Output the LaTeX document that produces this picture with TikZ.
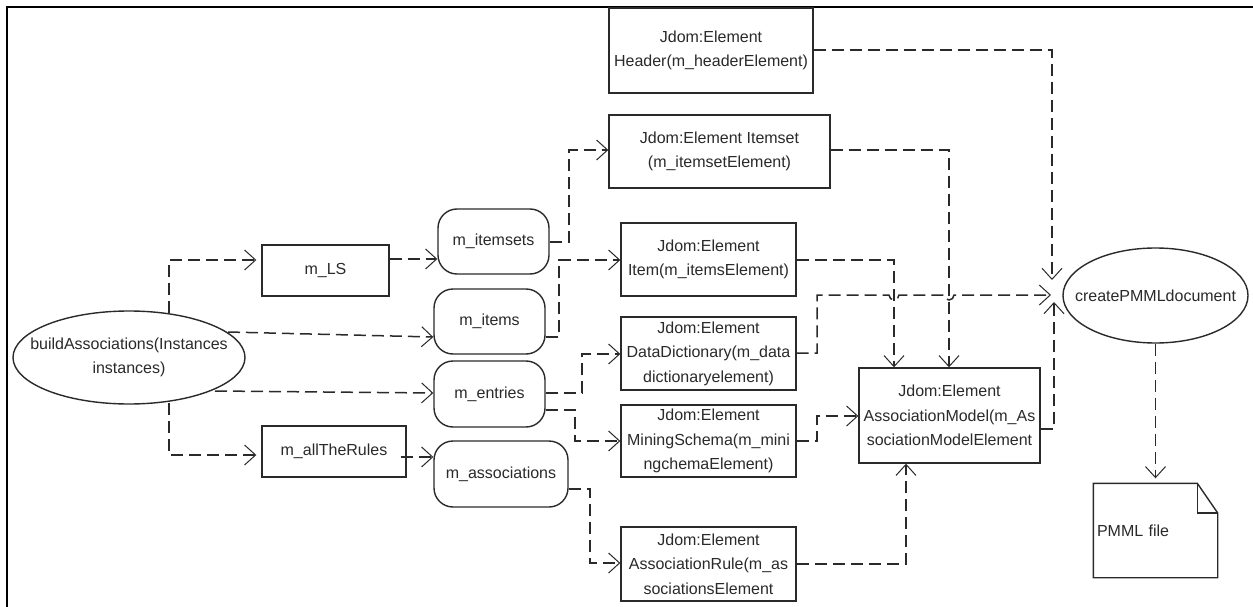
\documentclass[tikz,border=0pt]{standalone}
\usepackage{fontspec}
\setmainfont{Liberation Sans}
\usetikzlibrary{arrows.meta}
\definecolor{ink}{HTML}{2A2A2A}
\tikzset{
  base/.style={draw=ink,line width=1.4pt,inner sep=0pt,align=center,text=ink,font=\fontsize{16}{24.5}\selectfont},
  box/.style={base,rectangle},
  rbox/.style={base,rectangle,rounded corners=19pt},
  oval/.style={base,rectangle,draw=none},
  ovaline/.style={draw=ink,line width=1.4pt},
  conn/.style={draw=ink,line width=1.5pt,dash pattern=on 12pt off 6pt,
    -{Straight Barb[length=11pt,width=20pt,line width=1pt]}},
  gap/.style={shorten >=5pt},
}
\newcommand{\bx}[6]{\node[#1,minimum width=#5pt-#3pt,minimum height=#6pt-#4pt] (#2) at ({(#3+#5)/2},{(#4+#6)/2})}
\begin{document}
\begin{tikzpicture}[x=1pt,y=-1pt]
\useasboundingbox (0,0) rectangle (1253,607);
\fill[white] (0,0) rectangle (1253,607);
\draw[black,line width=2.4pt] (7,607) -- (7,7) -- (1253,7);

\bx{oval}{build}{13}{311}{245}{404} {buildAssociations(Instances\\instances)};
\draw[ovaline] (build.center) ellipse [x radius=116pt,y radius=46.5pt];
\bx{box}{ls}{262}{245}{389}{296} {m\_LS};
\bx{box}{rules}{262}{426}{406}{477} {m\_allTheRules};
\bx{rbox}{itemsets}{438}{209}{549}{274} {m\_itemsets};
\bx{rbox}{items}{434}{289}{545}{354} {m\_items};
\bx{rbox}{entries}{434}{361}{545}{427} {m\_entries};
\bx{rbox}{assocs}{434}{441}{568}{507} {m\_associations};
\bx{box}{header}{609}{8}{813}{93} {Jdom:Element\\Header(m\_headerElement)};
\bx{box}{itemset}{609}{115}{830}{188} {Jdom:Element Itemset\\(m\_itemsetElement)};
\bx{box}{item}{621}{223}{796}{296} {Jdom:Element\\Item(m\_itemsElement)};
\bx{box}{dict}{621}{317}{796}{390} {Jdom:Element\\DataDictionary(m\_data\\dictionaryelement)};
\bx{box}{schema}{621}{405}{796}{477} {Jdom:Element\\MiningSchema(m\_mini\\ngchemaElement)};
\bx{box}{rule}{621}{527}{796}{601} {Jdom:Element\\AssociationRule(m\_as\\sociationsElement};
\bx{box}{model}{859}{368}{1040}{463} {Jdom:Element\\AssociationModel(m\_As\\sociationModelElement};
\bx{oval}{create}{1063}{248}{1248}{343} {createPMMLdocument};
\draw[ovaline] (create.center) ellipse [x radius=92.5pt,y radius=47.5pt];
\node[base,draw=none,rectangle,minimum width=123pt,minimum height=93pt,text width=117pt,align=left] (pmml) at (1155.5,530.5) {PMML file};
\draw[ink,line width=1.4pt] (pmml.south west) -- (pmml.north west) -- ++(104,0) coordinate (fold) -- (pmml.east |- 0,513) coordinate (foldb) -- (pmml.south east) -- cycle;
\draw[ink,line width=1.4pt] (fold) -- (fold |- foldb) -- (foldb);

% left side
\draw[conn,gap] (169,313) -- (169,260) -- (ls.west |- 0,260);
\draw[conn,gap] (169,403) -- (169,455) -- (rules.west |- 0,455);
\draw[conn] (228,332) -- (items.west |- 0,337);
\draw[conn] (215,391) -- (entries.west |- 0,393);
\draw[conn] (ls.east |- 0,259) -- (itemsets.west |- 0,259);
\draw[conn] (rules.east |- 0,457) ++(-6,0) -- (assocs.west |- 0,457);

% middle
\draw[conn] (itemsets.east |- 0,242) -- (569,242) -- (569,150) -- (itemset.west |- 0,150);
\draw[conn] (items.east |- 0,337) -- (559,337) -- (559,260) -- (item.west |- 0,260);
\draw[conn] (entries.east |- 0,393) -- (582,393) -- (582,354) -- (dict.west |- 0,354);
\draw[conn] (entries.east |- 0,410) -- (575,410) -- (575,441) -- (schema.west |- 0,441);
\draw[conn] (assocs.east |- 0,489) -- (590,489) -- (590,563) -- (rule.west |- 0,563);

% right
\draw[conn] (header.east |- 0,50) -- (1052,50) -- (1052,280);
\draw[conn] (itemset.east |- 0,150) -- (949,150) -- (949 ,0 |- model.north);
\draw[conn] (item.east |- 0,260) -- (894,260) -- (894,0 |- model.north);
\draw[conn] (dict.east |- 0,353) -- (817,353) -- (817,295) -- (889,295) arc[start angle=180,end angle=0,radius=5] -- (944,295) arc[start angle=180,end angle=0,radius=5] -- (1051,295);
\draw[conn] (schema.east |- 0,441) -- (817,441) -- (817,416) -- (model.west |- 0,416);
\draw[conn] (rule.east |- 0,564) -- (906,564) -- (906,0 |- model.south);
\draw[conn] (model.east |- 0,429) -- (1054,429) -- (1054,302);
\draw[conn,gap] (create.south) -- (pmml.north);
\end{tikzpicture}
\end{document}
